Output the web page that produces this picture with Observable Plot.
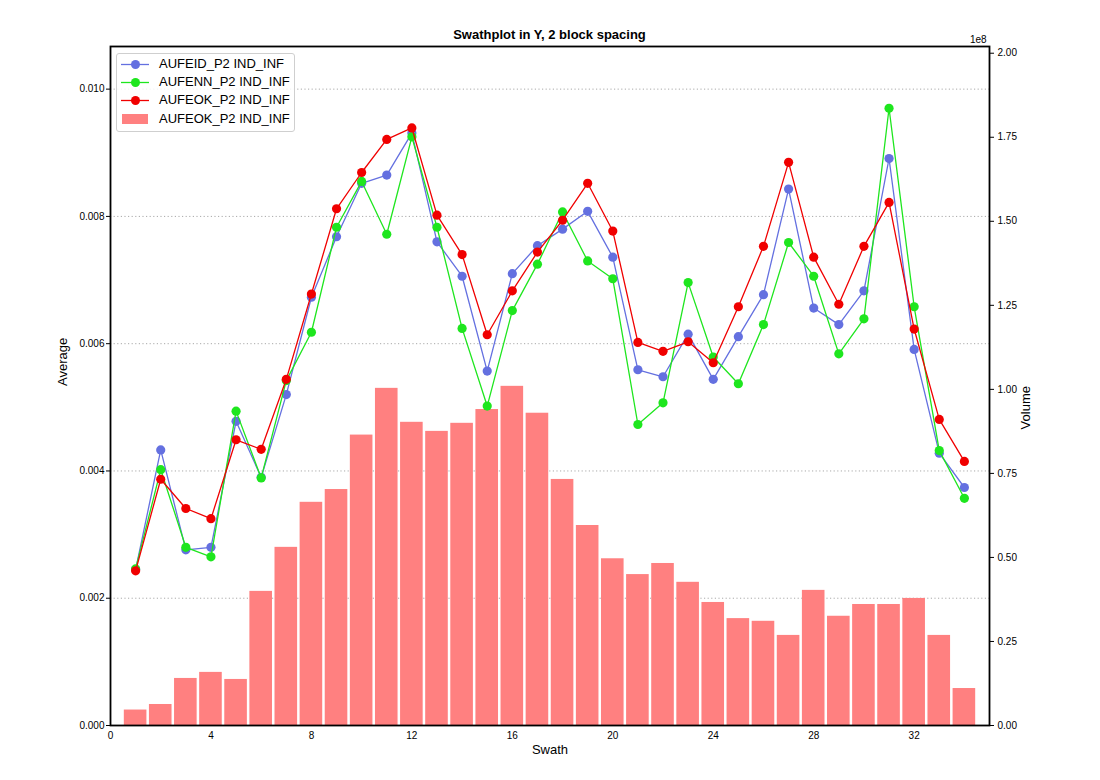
<!DOCTYPE html>
<html>
<head>
<meta charset="utf-8">
<script src="https://cdn.jsdelivr.net/npm/d3@7"></script>
<script src="https://cdn.jsdelivr.net/npm/@observablehq/plot@0.6"></script>
<style>
  body { margin: 0; background: #fff; font-family: "Liberation Sans", Arial, sans-serif; }
  #wrap { position: relative; width: 1100px; height: 780px; }
  #head { position: relative; height: 42px; }
  #title { position: absolute; left: 0; width: 1099px; text-align: center; top: 27px; font-weight: bold; font-size: 13px; }
  #exp { position: absolute; left: 970px; top: 34px; font-size: 10px; }
  #legend { position: absolute; left: 116px; top: 53px; width: 177px; height: 77px; border: 1px solid #cfcfcf; border-radius: 3px; background: rgba(255,255,255,0.85); }
  .row { position: absolute; left: 0; height: 18px; width: 177px; }
  .row svg { position: absolute; left: 4px; top: 0; }
  .row span { position: absolute; left: 42px; top: 0; line-height: 18px; font-size: 13px; white-space: nowrap; }
</style>
</head>
<body>
<div id="wrap">
  <div id="head"><div id="title">Swathplot in Y, 2 block spacing</div><div id="exp">1e8</div></div>
  <div id="chart"></div>
  <div id="legend"></div>
</div>
<script>
// ---- data ----
const swath = [1,2,3,4,5,6,7,8,9,10,11,12,13,14,15,16,17,18,19,20,21,22,23,24,25,26,27,28,29,30,31,32,33,34];

const aufeid = [0.00245,0.00433,0.00276,0.00280,0.00478,0.00390,0.00520,0.00673,0.00768,0.00852,
                0.00865,0.00931,0.00760,0.00706,0.00557,0.00710,0.00754,0.00780,0.00808,0.00736,
                0.00559,0.00548,0.00615,0.00544,0.00611,0.00677,0.00843,0.00656,0.00630,0.00683,
                0.00891,0.00591,0.00428,0.00374];

const aufenn = [0.00246,0.00402,0.00280,0.00265,0.00494,0.00389,0.00542,0.00618,0.00783,0.00855,
                0.00772,0.00925,0.00783,0.00624,0.00502,0.00652,0.00725,0.00807,0.00730,0.00702,
                0.00473,0.00507,0.00696,0.00579,0.00537,0.00630,0.00759,0.00706,0.00584,0.00639,
                0.00970,0.00658,0.00432,0.00357];

const aufeok = [0.00243,0.00387,0.00341,0.00325,0.00449,0.00434,0.00544,0.00678,0.00812,0.00869,
                0.00921,0.00939,0.00802,0.00740,0.00614,0.00683,0.00744,0.00794,0.00852,0.00777,
                0.00602,0.00588,0.00603,0.00570,0.00658,0.00753,0.00885,0.00736,0.00662,0.00753,
                0.00822,0.00623,0.00481,0.00415];

const volume = [4.6e6,6.25e6,1.40e7,1.58e7,1.37e7,3.99e7,5.30e7,6.64e7,7.02e7,8.64e7,
                1.003e8,9.02e7,8.75e7,8.99e7,9.40e7,1.009e8,9.29e7,7.32e7,5.95e7,4.96e7,
                4.49e7,4.82e7,4.26e7,3.66e7,3.18e7,3.10e7,2.68e7,4.02e7,3.25e7,3.60e7,
                3.60e7,3.78e7,2.68e7,1.10e7];

const seriesNames = ["AUFEID_P2 IND_INF", "AUFENN_P2 IND_INF", "AUFEOK_P2 IND_INF"];
const barName = "AUFEOK_P2 IND_INF";
const seriesColors = ["#6470e0", "#1ee61e", "#f00000"];
const barColor = "#ff8080";

const xTicks = [0,4,8,12,16,20,24,28,32];
const leftTicks = [0,0.002,0.004,0.006,0.008,0.010];
const rightTicks = [0,0.25,0.5,0.75,1.0,1.25,1.5,1.75,2.0]; // x 1e8

// ---- scales ----
const leftMax = 0.01067;
const rightMax = 2.02e8;
const k = leftMax / rightMax;

const bars = swath.map((s, i) => ({swath: s, vol: volume[i]}));
const seriesValues = [aufeid, aufenn, aufeok];
const seriesMarks = [];
seriesValues.forEach((vals, j) => {
  const pts = swath.map((s, i) => ({swath: s, v: vals[i]}));
  seriesMarks.push(Plot.line(pts, {x: "swath", y: "v", stroke: seriesColors[j], strokeWidth: 1.3}));
  seriesMarks.push(Plot.dot(pts, {x: "swath", y: "v", fill: seriesColors[j], r: 4.6, stroke: "none"}));
});

const chart = Plot.plot({
  width: 1100,
  height: 738,
  marginTop: 4,
  marginBottom: 55,
  marginLeft: 110,
  marginRight: 111,
  x: {domain: [0, 35]},
  y: {domain: [0, leftMax]},
  style: {fontFamily: '"Liberation Sans", Arial, sans-serif', fontSize: "10px", color: "black", background: "white"},
  marks: [
    Plot.gridY(leftTicks.slice(1), {stroke: "#aaaaaa", strokeOpacity: 1, strokeDasharray: "1.2,2.4", strokeWidth: 1}),
    Plot.rect(bars, {x1: d => d.swath - 0.45, x2: d => d.swath + 0.45, y1: 0, y2: d => d.vol * k, fill: barColor}),
    ...seriesMarks,
    Plot.frame({stroke: "black", strokeWidth: 1.8}),
    Plot.axisX(xTicks, {tickSize: 0, tickPadding: 6, tickFormat: d => String(d), label: null}),
    Plot.axisY(leftTicks, {anchor: "left", tickSize: 4, tickPadding: 2, tickFormat: d3.format(".3f"), label: null}),
    Plot.axisY(rightTicks.map(t => t * 1e8 * k), {anchor: "right", tickSize: 4, tickPadding: 4, tickFormat: d => (d / k / 1e8).toFixed(2), label: null}),
    Plot.text(["Average"], {frameAnchor: "left", dx: -48, rotate: -90, fontSize: 13}),
    Plot.text(["Volume"], {frameAnchor: "right", dx: 36, rotate: -90, fontSize: 13}),
    Plot.text(["Swath"], {frameAnchor: "bottom", dy: 28, fontSize: 13})
  ]
});
document.getElementById("chart").appendChild(chart);

// ---- legend ----
const legend = document.getElementById("legend");
const rowTops = [1, 19, 37, 56];
const ns = "http://www.w3.org/2000/svg";
function makeRow(i, label, drawSwatch) {
  const row = document.createElement("div");
  row.className = "row";
  row.style.top = rowTops[i] + "px";
  const svg = document.createElementNS(ns, "svg");
  svg.setAttribute("width", 30); svg.setAttribute("height", 18);
  drawSwatch(svg);
  row.appendChild(svg);
  const span = document.createElement("span");
  span.textContent = label;
  row.appendChild(span);
  legend.appendChild(row);
}
seriesNames.forEach((name, i) => {
  makeRow(i, name, svg => {
    const l = document.createElementNS(ns, "line");
    l.setAttribute("x1", 0); l.setAttribute("x2", 28); l.setAttribute("y1", 9.5); l.setAttribute("y2", 9.5);
    l.setAttribute("stroke", seriesColors[i]); l.setAttribute("stroke-width", 1.3);
    svg.appendChild(l);
    const c = document.createElementNS(ns, "circle");
    c.setAttribute("cx", 14.5); c.setAttribute("cy", 9.5); c.setAttribute("r", 4.5);
    c.setAttribute("fill", seriesColors[i]);
    svg.appendChild(c);
  });
});
makeRow(3, barName, svg => {
  const r = document.createElementNS(ns, "rect");
  r.setAttribute("x", 1); r.setAttribute("y", 4); r.setAttribute("width", 26); r.setAttribute("height", 10);
  r.setAttribute("fill", barColor);
  svg.appendChild(r);
});
</script>
</body>
</html>
